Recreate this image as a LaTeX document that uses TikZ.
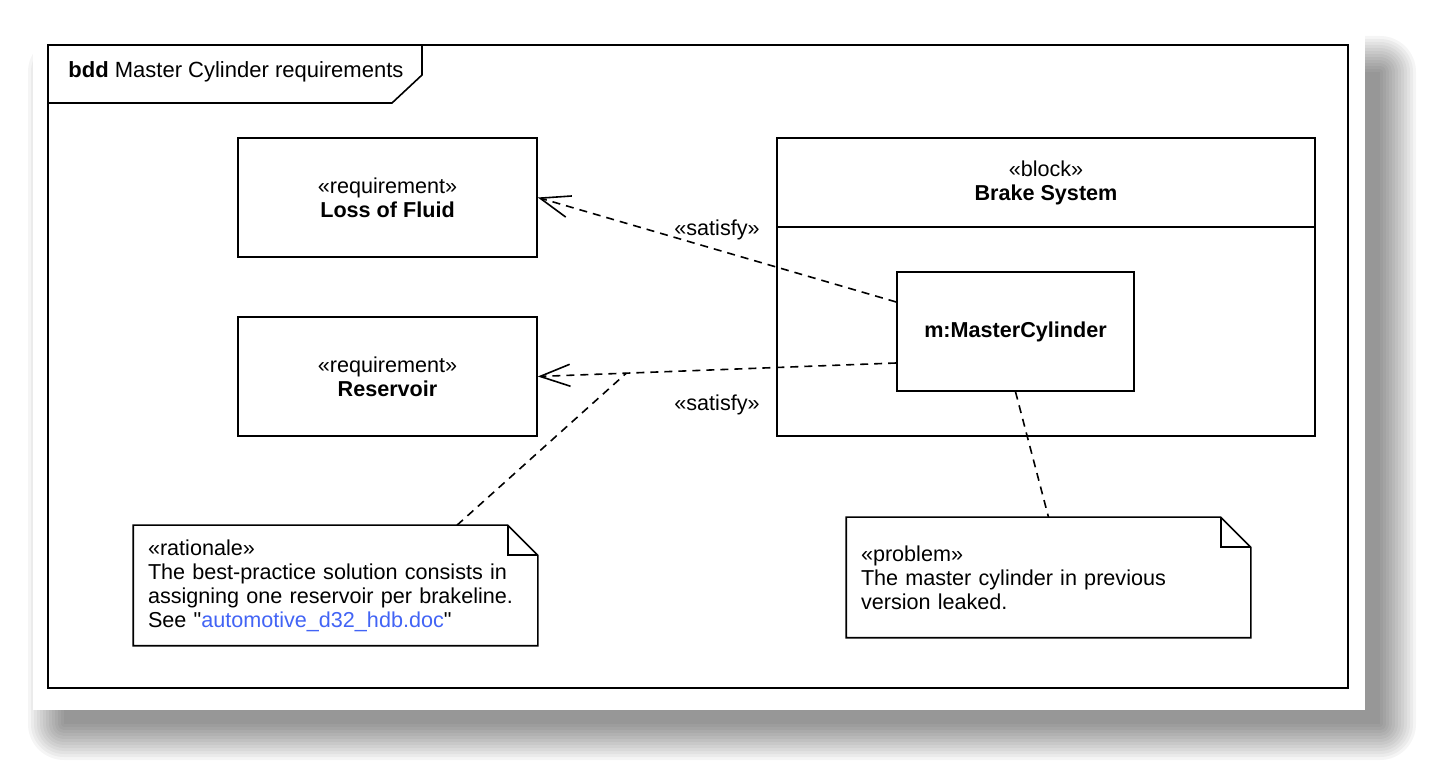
\documentclass[tikz,border=0pt]{standalone}
\usepackage{fontspec}
\setmainfont{Liberation Sans}
\usetikzlibrary{arrows.meta}

\definecolor{linkblue}{RGB}{66,100,245}
\newcommand{\umlfont}{\fontsize{10.8}{12}\selectfont}
\newcommand{\notefold}[1]{%
  \draw (#1.north west) -- ([xshift=-15pt]#1.north east) -- ([yshift=-15pt]#1.north east)
    -- (#1.south east) -- (#1.south west) -- cycle;
  \draw ([xshift=-15pt]#1.north east) |- ([yshift=-15pt]#1.north east);}

\tikzset{
  every node/.style={font=\umlfont},
  box/.style={draw, fill=white, align=center, inner sep=0pt},
  reqbox/.style={box, minimum width=149.5pt, minimum height=59.5pt},
  notebox/.style={fill=white, align=left, text width=187.5pt, inner xsep=7pt,
    inner ysep=0pt, minimum height=59.5pt},
  dep/.style={dash pattern=on 4pt off 3pt}
}

\begin{document}
\begin{tikzpicture}[x=0.5pt, y=-0.5pt, line width=0.8pt,
  >={Straight Barb[length=15pt,width=11pt]}]
\useasboundingbox (0,0) rectangle (1430,774);

% drop shadow and sheet
\foreach \e in {0,3,...,36}
  \fill[black, opacity=0.04, rounded corners=\e*0.5pt] (64-\e,72-\e) rectangle (1380+\e,724+\e);
\fill[white] (33,35) rectangle (1365,710);

% diagram frame
\draw (48,45) rectangle (1348,688);
\draw (48,103) -- (392,103) -- (422,75) -- (422,45);
\node[anchor=west, font=\fontsize{11}{13}\selectfont] (title) at (61,72)
  {\textbf{bdd} Master Cylinder requirements};

% requirements
\node[reqbox] (loss) at (387.5,197.5) {«requirement»\\\textbf{Loss of Fluid}};
\node[reqbox] (res) at (387.5,376.5) {«requirement»\\\textbf{Reservoir}};

% block
\node[box, minimum width=269pt, minimum height=44.5pt] (brakehead) at (1046,182.5)
  {«block»\\\textbf{Brake System}};
\node[box, minimum width=269pt, minimum height=104.5pt] (brakebody) at (1046,331.5) {};
\node[box, minimum width=118.5pt, minimum height=59.5pt, font=\umlfont\bfseries] (mc)
  at (1015.5,331.5) {m:MasterCylinder};

% notes
\node[notebox] (rat) at (335.5,585.5) {«rationale»\\The best-practice solution consists in\\
  assigning one reservoir per brakeline.\\See \textquotedbl\textcolor{linkblue}{automotive\_d32\_hdb.doc}\textquotedbl};
\notefold{rat}
\node[notebox] (prob) at (1048.5,577.5) {«problem»\\The master cylinder in previous\\version leaked.};
\notefold{prob}

% satisfy dependencies
\draw[dep, ->] ([yshift=14.75pt]mc.west) -- node[above=1pt] (sat1) {«satisfy»} (loss.east);
\draw[dep, ->] ([yshift=-15.75pt]mc.west) -- coordinate[pos=0.753] (ratpt)
  node[pos=0.5, below=9pt] (sat2) {«satisfy»} (res.east);

% note anchors
\draw[dep] ([xshift=60.75pt]rat.north) -- (ratpt);
\draw[dep] (mc.south) -- (prob.north);
\end{tikzpicture}
\end{document}
